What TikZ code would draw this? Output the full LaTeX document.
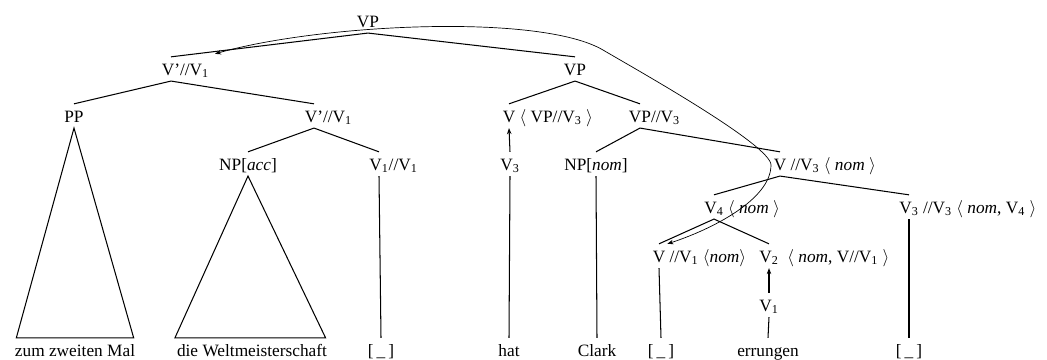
\documentclass[tikz,border=0pt]{standalone}
\usepackage{fontspec}
\setmainfont{Liberation Serif}
\usetikzlibrary{arrows.meta}

% head of a category label, the rest hangs to the right
\newcommand{\hd}[2]{#1\rlap{#2}}
\newcommand{\trc}{[\kern.18em\_\kern.18em]}

\begin{document}
\begin{tikzpicture}[x=0.578pt, y=0.578pt,
    lbl/.style={anchor=base, inner xsep=1pt, inner ysep=3.3pt, text height=7pt, text depth=0pt},
    branch/.style={line width=0.6pt},
    headmove/.style={line width=0.6pt, -{Stealth[length=3.5pt,width=2.6pt]}},
    extract/.style={line width=0.4pt, {Stealth[length=3.5pt,width=2.6pt]}-{Stealth[length=3.5pt,width=2.6pt]}}]
  \useasboundingbox (0,0) rectangle (1047,-359);

  % Categories
  \node[lbl] (vp0) at (368,-27) {VP};
  \node[lbl] (vbarA) at (171,-75) {\hd{V'}{//V\textsubscript{1}}};
  \node[lbl] (vp1) at (575,-75) {VP};
  \node[lbl] (pp) at (74,-122) {PP};
  \node[lbl] (vbarB) at (314,-122) {\hd{V'}{//V\textsubscript{1}}};
  \node[lbl] (vhat) at (509,-122) {\hd{V}{\ $\langle$ VP//V\textsubscript{3} $\rangle$}};
  \node[lbl] (vpv3) at (640,-122) {\hd{VP}{//V\textsubscript{3}}};
  \node[lbl] (npacc) at (248,-170) {NP[\textit{acc}]};
  \node[lbl] (vvone) at (379,-170) {\hd{V\textsubscript{1}}{//V\textsubscript{1}}};
  \node[lbl] (vthree) at (510,-170) {V\textsubscript{3}};
  \node[lbl] (npnom) at (596,-170) {NP[\textit{nom}]};
  \node[lbl] (vslash) at (780,-170) {\hd{V}{\ //V\textsubscript{3} $\langle$ \textit{nom} $\rangle$}};
  \node[lbl] (vfour) at (714,-213) {\hd{V\textsubscript{4}}{\ $\langle$ \textit{nom} $\rangle$}};
  \node[lbl] (vthreeb) at (909,-213) {\hd{V\textsubscript{3}}{\ //V\textsubscript{3} $\langle$ \textit{nom}, V\textsubscript{4} $\rangle$}};
  \node[lbl] (vgap) at (659,-262) {\hd{V}{\ //V\textsubscript{1} $\langle$\textit{nom}$\rangle$}};
  \node[lbl] (vtwo) at (769,-262) {\hd{V\textsubscript{2}}{\ \ $\langle$ \textit{nom}, V//V\textsubscript{1} $\rangle$}};
  \node[lbl] (vone) at (769,-311) {V\textsubscript{1}};

  % Words
  \node[lbl] (zum) at (75,-356) {zum zweiten Mal};
  \node[lbl] (wm) at (252,-356) {die Weltmeisterschaft};
  \node[lbl] (trA) at (381,-356) {\trc};
  \node[lbl] (hat) at (509,-356) {hat};
  \node[lbl] (clark) at (597,-356) {Clark};
  \node[lbl] (trB) at (661,-356) {\trc};
  \node[lbl] (err) at (768,-356) {errungen};
  \node[lbl] (trC) at (909,-356) {\trc};

  % Branches
  \draw[branch] (vbarA.north) -- (vp0.south) -- (vp1.north);
  \draw[branch] (pp.north) -- (vbarA.south) -- (vbarB.north);
  \draw[branch] (vhat.north) -- (vp1.south) -- (vpv3.north);
  \draw[branch] (npacc.north) -- (vbarB.south) -- (vvone.north);
  \draw[branch] (npnom.north) -- (vpv3.south) -- (vslash.north);
  \draw[branch] (vfour.north) -- (vslash.south) -- (vthreeb.north);
  \draw[branch] (vgap.north) -- (vfour.south) -- (vtwo.north);

  % Triangles
  \draw[branch] (pp.south) -- ([xshift=2pt]zum.north west) -- ([xshift=-2pt]zum.north east) -- cycle;
  \draw[branch] (npacc.south) -- (wm.north west) -- ([xshift=-2pt]wm.north east) -- cycle;

  % Lexical lines
  \draw[branch] (vvone.south) -- (trA.north);
  \draw[branch] (vthree.south) -- (hat.north);
  \draw[branch] (npnom.south) -- (clark.north);
  \draw[branch] (vgap.south) -- (trB.north);
  \draw[branch] (vone.south) -- (err.north);
  \draw[branch] (vthreeb.south) -- (trC.north);

  % Head movement
  \draw[headmove] (vthree.north) -- (vhat.south);
  \draw[headmove] (vone.north) -- (vtwo.south);

  % Long curve
  \draw[extract] (vgap.north east)
    .. controls (710,-230) and (771,-200) .. (771,-165)
    .. controls (771,-145) and (637,-70) .. (603,-50)
    .. controls (540,-13) and (320,-24) .. ([shift={(44,3)}]vbarA.north);
\end{tikzpicture}
\end{document}
